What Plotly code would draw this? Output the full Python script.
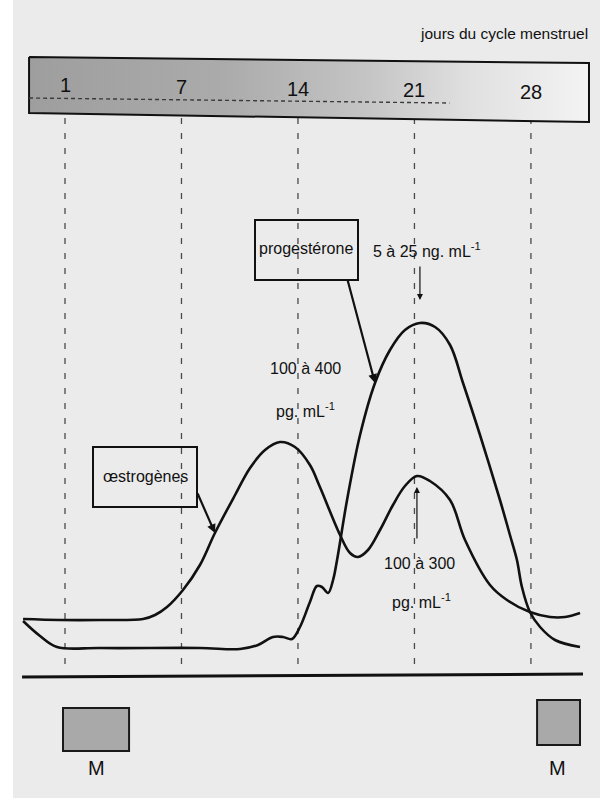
import plotly.graph_objects as go

# ---- data (x: position in days, label "1" at 0; y: relative level above baseline) ----
jours_ticks = [0, 7, 14, 21, 28]
jours_labels = ["1", "7", "14", "21", "28"]

oestro_x = [-2.52, -0.30, 2.10, 4.69, 5.41, 6.13, 7.09, 8.11, 9.01, 10.22, 11.12, 12.02,
            12.92, 13.82, 14.72, 15.32, 16.53, 17.13, 17.61, 18.21, 18.93, 19.71, 20.43,
            21.15, 21.93, 23.14, 24.04, 25.54, 26.56, 27.94, 29.15, 30.05, 30.95]
oestro_y = [58, 57, 57, 58, 62, 70, 87, 112, 144, 182, 209, 227,
            235, 230, 212, 190, 142, 124, 120, 127, 147, 172, 191,
            201, 196, 177, 137, 92, 77, 65, 60, 60, 64]

proges_x = [-2.52, -1.50, -0.48, 2.10, 8.11, 10.52, 11.60, 12.50, 13.10, 13.64, 14.12,
            14.72, 15.14, 15.44, 15.81, 16.11, 16.35, 16.95, 17.73, 18.63, 19.53, 20.43,
            21.33, 22.24, 23.14, 23.92, 24.94, 26.14, 26.74, 27.16, 27.46, 27.94, 28.55,
            29.45, 30.95]
proges_y = [56, 41, 30, 29, 29, 28, 32, 40, 40, 38, 50,
            75, 91, 90, 84, 97, 117, 177, 242, 294, 327, 347,
            354, 350, 332, 294, 242, 177, 142, 117, 90, 65, 50,
            37, 30]

regles_debut = [-0.12, 28.37]
regles_fin = [3.85, 30.95]
regles_bas = [-74, -68]
regles_haut = [-31, -23]

# ---- page geometry ----
W, H = 600, 798
X0_PX, PX_PER_DAY = 65, 16.64
BASE_PY = 677
XR = [(0 - X0_PX) / PX_PER_DAY, (W - X0_PX) / PX_PER_DAY]
YR = [BASE_PY - H, BASE_PY]
FONT = "Liberation Sans, Arial, sans-serif"
BG = "#ebebeb"


def px(x):
    return x / W


def py(y):
    return 1 - y / H


fig = go.Figure()

# header band with gradient
fig.add_trace(go.Scatter(
    x=[-2.16, 31.49, 31.49, -2.16, -2.16], y=[620, 614, 555, 564, 620],
    mode="lines", fill="toself",
    fillgradient=dict(type="horizontal",
                      colorscale=[[0, "#9e9e9e"], [0.35, "#ababab"], [0.6, "#c4c4c4"],
                                  [0.8, "#e2e2e2"], [1, "#f3f3f3"]]),
    line=dict(color="#111111", width=2), hoverinfo="skip", showlegend=False))
# dashed line inside band
fig.add_trace(go.Scatter(
    x=[-2.16, 23.1], y=[579, 574], mode="lines",
    line=dict(color="#3a3a3a", width=1.4, dash="4px,3px"),
    hoverinfo="skip", showlegend=False))

# hormone curves
fig.add_trace(go.Scatter(x=oestro_x, y=oestro_y, mode="lines", name="œstrogènes",
                         line=dict(color="#111111", width=2.6, shape="spline", smoothing=1.0),
                         showlegend=False))
fig.add_trace(go.Scatter(x=proges_x, y=proges_y, mode="lines", name="progestérone",
                         line=dict(color="#111111", width=2.6, shape="spline", smoothing=1.0),
                         showlegend=False))

shapes = []
# page background (white strip on the left as in the scan)
shapes.append(dict(type="rect", xref="paper", yref="paper", x0=px(13), x1=1, y0=0, y1=1,
                   fillcolor=BG, line=dict(width=0), layer="below"))
# vertical dashed day lines
for t in jours_ticks:
    shapes.append(dict(type="line", xref="x", yref="y", x0=t, x1=t, y0=BASE_PY - 118,
                       y1=BASE_PY - 672, line=dict(color="#4a4a4a", width=1.3, dash="6px,9px"),
                       layer="below"))
# bottom axis line
shapes.append(dict(type="line", xref="x", yref="y", x0=-2.58, x1=31.13, y0=0, y1=3,
                   line=dict(color="#111111", width=3), layer="below"))
# menstruation boxes
for a, b, lo, hi in zip(regles_debut, regles_fin, regles_bas, regles_haut):
    shapes.append(dict(type="rect", xref="x", yref="y", x0=a, x1=b, y0=lo, y1=hi,
                       fillcolor="#a9a9a9", line=dict(color="#1a1a1a", width=2), layer="below"))
# label boxes
shapes.append(dict(type="rect", xref="paper", yref="paper", x0=px(255), x1=px(358),
                   y0=py(280), y1=py(220), fillcolor=BG,
                   line=dict(color="#111111", width=2), layer="below"))
shapes.append(dict(type="rect", xref="paper", yref="paper", x0=px(93), x1=px(197),
                   y0=py(507), y1=py(447), fillcolor=BG,
                   line=dict(color="#111111", width=2), layer="below"))

ann = []


def txt(s, x, y, size=16, xanchor="center"):
    ann.append(dict(text=s, xref="paper", yref="paper", x=px(x), y=py(y), showarrow=False,
                    xanchor=xanchor, yanchor="middle",
                    font=dict(family=FONT, size=size, color="#111111")))


txt("jours du cycle menstruel", 590, 34, size=15.5, xanchor="right")
# tick labels inside the band
for t, lab in zip(jours_ticks, jours_labels):
    xp = X0_PX + t * PX_PER_DAY
    ann.append(dict(text=lab, xref="x", yref="paper", x=t, y=py(85 + (xp - 29) / 560 * 7.5),
                    showarrow=False, xanchor="center", yanchor="middle",
                    font=dict(family=FONT, size=20, color="#111111")))

txt("progestérone", 306, 249)
txt("5 à 25 ng. mL<sup>-1</sup>", 371, 250, xanchor="left")
txt("100 à 400", 305, 368)
txt("pg. mL<sup>-1</sup>", 305, 410)
txt("œstrogènes", 145, 476)
txt("100 à 300", 419, 563)
txt("pg. mL<sup>-1</sup>", 421, 601)
txt("M", 96, 768, size=20)
txt("M", 557, 768, size=20)


# arrows
def arrow(x, y, ax, ay, width=1.2, size=1.0):
    ann.append(dict(x=x, y=y, ax=ax, ay=ay, xref="x", yref="y", axref="x", ayref="y",
                    showarrow=True, arrowhead=2, arrowsize=size, arrowwidth=width,
                    arrowcolor="#111111", text=""))


arrow(21.33, 377, 21.33, 412)            # progesterone peak
arrow(21.15, 190, 21.15, 137)            # second oestrogen peak
arrow(18.63, 294, 16.95, 399, width=2.2, size=0.8)   # progesterone pointer
arrow(9.01, 144, 7.93, 185, width=2.2, size=0.8)     # oestrogen pointer

fig.update_layout(
    width=W, height=H, margin=dict(l=0, r=0, t=0, b=0),
    paper_bgcolor="white", plot_bgcolor="rgba(0,0,0,0)",
    xaxis=dict(range=XR, visible=False, fixedrange=True),
    yaxis=dict(range=YR, visible=False, fixedrange=True),
    shapes=shapes, annotations=ann, showlegend=False,
)

fig.write_html("out.html", config={"displayModeBar": False},
               post_script="document.body.style.margin='0';document.body.style.overflow='hidden';")
